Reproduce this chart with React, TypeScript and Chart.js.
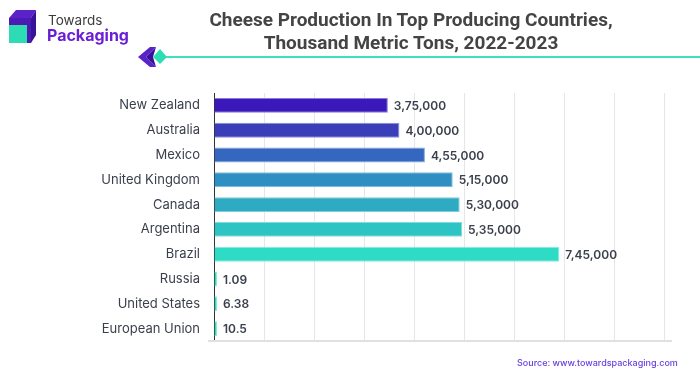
import React, { useEffect, useRef } from "react";
import { Chart, registerables } from "chart.js";

Chart.register(...registerables);

const categories = [
  "New Zealand",
  "Australia",
  "Mexico",
  "United Kingdom",
  "Canada",
  "Argentina",
  "Brazil",
  "Russia",
  "United States",
  "European Union",
];

const production = [375000, 400000, 455000, 515000, 530000, 535000, 745000, 1.09, 6.38, 10.5];

const barColors = [
  "#3b18b9",
  "#3a3eb9",
  "#3566c0",
  "#2f8fc3",
  "#2eabc3",
  "#2ec4c4",
  "#2edcc6",
  "#2edcba",
  "#2edcba",
  "#2edcba",
];
const barBorders = [
  "#8c7ad8",
  "#8b8fd8",
  "#86a7dc",
  "#82bcdc",
  "#82ccdc",
  "#82dcdc",
  "#8aeadc",
  "#8aead4",
  "#8aead4",
  "#8aead4",
];

const axisMax = 988000;
const gridStep = 108000;

function fmtIN(v: number): string {
  if (v < 1000) return String(v);
  const s = String(Math.round(v));
  const last3 = s.slice(-3);
  const rest = s.slice(0, -3);
  return rest.replace(/\B(?=(\d{2})+(?!\d))/g, ",") + "," + last3;
}

const valueLabels = {
  id: "valueLabels",
  afterDatasetsDraw(chart: any) {
    const ctx = chart.ctx;
    const meta = chart.getDatasetMeta(0);
    ctx.save();
    ctx.font = "600 12px Inter, 'Noto Sans', sans-serif";
    ctx.fillStyle = "#3a3f4b";
    ctx.textAlign = "left";
    ctx.textBaseline = "middle";
    meta.data.forEach((el: any, i: number) => {
      ctx.fillText(fmtIN(production[i]), el.x + 6, el.y + 1);
    });
    ctx.restore();
  },
};

const bottomLine = {
  id: "bottomLine",
  beforeDatasetsDraw(chart: any) {
    const { ctx, chartArea } = chart;
    ctx.save();
    ctx.strokeStyle = "#e0e0e0";
    ctx.lineWidth = 2;
    ctx.beginPath();
    ctx.moveTo(chartArea.left - 6, chartArea.bottom);
    ctx.lineTo(chartArea.right, chartArea.bottom);
    ctx.stroke();
    ctx.restore();
  },
};

function Logo() {
  return (
    <div style={{ position: "absolute", left: 0, top: 0, width: 140, height: 50 }}>
      <svg width="40" height="48" style={{ position: "absolute", left: 0, top: 0 }}>
        <polygon points="9,18 16,10 36,10 31,18" fill="#5a22c8" />
        <polygon points="31,18 36,10 36,35 31,43" fill="#3a129a" />
        <polygon points="9,18 31,18 31,25 9,25" fill="#4b1bb4" />
        <rect x="9" y="25" width="18" height="18" fill="#2edcb4" />
        <rect x="27" y="25" width="4" height="18" fill="#4b1bb4" />
      </svg>
      <div
        style={{
          position: "absolute",
          left: 48,
          top: 11,
          font: "400 13.5px Inter, 'Noto Sans', sans-serif",
          color: "#3d3d3d",
          lineHeight: "18px",
        }}
      >
        Towards
      </div>
      <div
        style={{
          position: "absolute",
          left: 47,
          top: 24,
          font: "700 16px Inter, 'Noto Sans', sans-serif",
          color: "#6a1fd6",
          lineHeight: "22px",
        }}
      >
        Packaging
      </div>
    </div>
  );
}

function Divider() {
  return (
    <svg width="700" height="30" style={{ position: "absolute", left: 0, top: 42 }}>
      <polygon points="150,5 156,5 146,15 156,25 150,25 138,15" fill="#5a22c8" />
      <polygon points="146,15 156,5 153,15 156,25" fill="#3a129a" />
      <polygon points="160,7 167,15 160,22 153,15" fill="#2edcb4" />
      <line x1="166" y1="15" x2="700" y2="15" stroke="#3ee0bf" strokeWidth="2" />
    </svg>
  );
}

export default function App() {
  const canvasRef = useRef<HTMLCanvasElement | null>(null);

  useEffect(() => {
    if (!canvasRef.current) return;
    const chart = new Chart(canvasRef.current, {
      type: "bar",
      data: {
        labels: categories,
        datasets: [
          {
            data: production,
            backgroundColor: barColors,
            borderColor: barBorders,
            borderWidth: 1,
            categoryPercentage: 1,
            barPercentage: 0.6,
            minBarLength: 3,
          },
        ],
      },
      options: {
        indexAxis: "y",
        responsive: false,
        animation: false,
        devicePixelRatio: 1,
        layout: { padding: { top: 93, bottom: 34, right: 28, left: 0 } },
        plugins: {
          legend: { display: false },
          tooltip: { enabled: false },
          title: { display: false },
        },
        scales: {
          x: {
            type: "linear",
            min: 0,
            max: axisMax,
            afterBuildTicks: (scale: any) => {
              const t = [];
              for (let v = 0; v <= axisMax; v += gridStep) t.push({ value: v });
              scale.ticks = t;
            },
            grid: { color: "#e6e6e6", lineWidth: 1, drawTicks: false },
            border: { display: false },
            ticks: { display: false },
          },
          y: {
            type: "category",
            grid: { display: false, drawTicks: false },
            border: { display: true, color: "#333333", width: 1 },
            afterFit: (scale: any) => {
              scale.width = 214;
            },
            ticks: {
              padding: 14,
              color: "#3a3f4b",
              font: { family: "Inter, 'Noto Sans', sans-serif", size: 13, weight: "400" },
            },
          },
        },
      },
      plugins: [valueLabels, bottomLine],
    });
    return () => chart.destroy();
  }, []);

  return (
    <div
      style={{
        position: "fixed",
        left: 0,
        top: 0,
        width: 700,
        height: 375,
        background: "#ffffff",
        overflow: "hidden",
      }}
    >
      <canvas ref={canvasRef} width={700} height={375} style={{ position: "absolute", left: 0, top: 0 }} />
      <Logo />
      <Divider />
      <div
        style={{
          position: "absolute",
          left: 161,
          width: 500,
          top: 8,
          textAlign: "center",
          font: "700 19px Roboto, 'Noto Sans', sans-serif",
          lineHeight: "23px",
          color: "#444444",
          whiteSpace: "nowrap",
        }}
      >
        Cheese Production In Top Producing Countries,
        <br />
        Thousand Metric Tons, 2022-2023
      </div>
      <div
        style={{
          position: "absolute",
          left: 517,
          top: 357,
          font: "500 9px Inter, 'Noto Sans', sans-serif",
          color: "#6a3fe0",
          whiteSpace: "nowrap",
        }}
      >
        Source: www.towardspackaging.com
      </div>
    </div>
  );
}
